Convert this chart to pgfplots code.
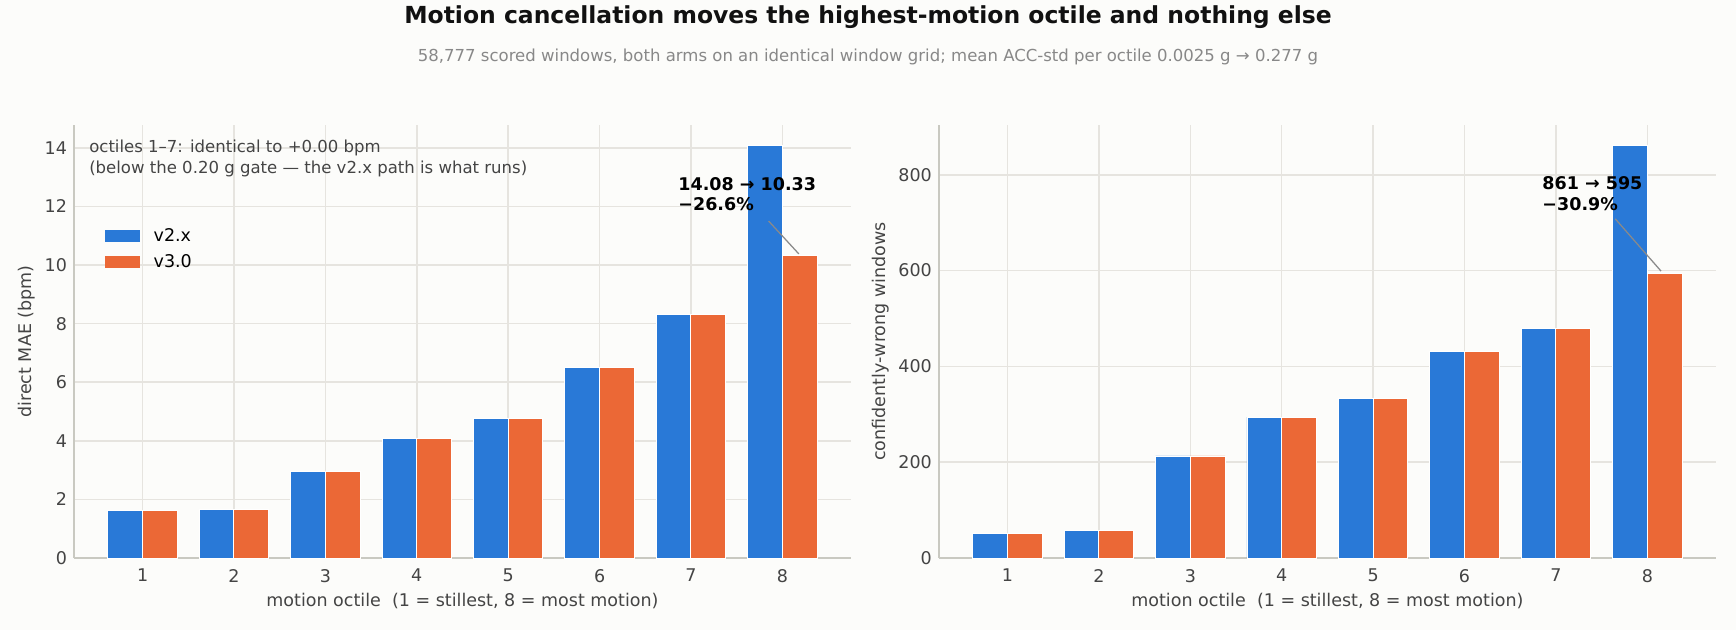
\documentclass[border=0pt]{standalone}
\usepackage{pgfplots}
\pgfplotsset{compat=1.18}
\usepackage{fontspec}
\setmainfont{DejaVu Sans}
\definecolor{bgc}{HTML}{FCFCFA}
\definecolor{bluec}{HTML}{2979D7}
\definecolor{orangec}{HTML}{EB6836}
\definecolor{gridc}{HTML}{E6E4DF}
\definecolor{spinec}{HTML}{C9C9C1}
\definecolor{tickc}{HTML}{444444}
\definecolor{subc}{HTML}{888888}
\definecolor{arrc}{HTML}{8A8A8A}
\pgfplotsset{myax/.style={
  width=559.4pt, height=311.8pt, scale only axis,
  anchor=south west,
  axis lines*=left,
  axis line style={draw=spinec, line width=1.1pt},
  xmin=0.25, xmax=8.75, ymin=0,
  xtick={1,2,3,4,5,6,7,8},
  major tick length=0pt,
  xmajorgrids, ymajorgrids,
  grid style={draw=gridc, line width=1.1pt},
  tick label style={font=\fontsize{12.6}{15}\selectfont, text=tickc},
  xticklabel style={yshift=-4.5pt},
  yticklabel style={xshift=-1.6pt},
  label style={font=\fontsize{12.6}{15}\selectfont, text=tickc},
  xlabel style={at={(rel axis cs:0.5,0)}, anchor=center, yshift=-31pt},
  /pgf/number format/assume math mode=true,
  clip=false,
  legend image code/.code={\fill[##1,draw=none] (0pt,-4.5pt) rectangle (25pt,4.5pt);},
}}
\begin{document}
\begin{tikzpicture}
\fill[bgc] (0pt,0pt) rectangle (1250pt,453.6pt);
\path[use as bounding box] (0pt,0pt) rectangle (1250pt,453.6pt);
\node[font=\bfseries\fontsize{16.9}{20}\selectfont, text={rgb,255:red,17;green,17;blue,17}] at (625pt,441pt) {Motion cancellation moves the highest-motion octile and nothing else};
\node[font=\fontsize{11.9}{14}\selectfont, text=subc] at (625pt,412.4pt) {58,777 scored windows, both arms on an identical window grid; mean ACC-std per octile 0.0025 g → 0.277 g};

\begin{axis}[myax, at={(53.3pt,51.8pt)},
  ymax=14.78, ytick={0,2,4,6,8,10,12,14},
  xlabel={motion octile\ \ (1 = stillest, 8 = most motion)},
  ylabel={direct MAE (bpm)},
  ylabel style={at={(rel axis cs:0,0.5)}, anchor=center, yshift=34pt},
  legend style={draw=none, fill=none, at={(0.036,0.775)}, anchor=north west,
    font=\fontsize{12.6}{15}\selectfont, row sep=4pt, inner sep=2pt,
    /tikz/every odd column/.style={column sep=8pt}},
  legend cell align=left,
]
\addplot[ybar, bar width=0.38, bar shift=-0.19, fill=bluec, draw=white, line width=0.7pt]
  coordinates {(1,1.62) (2,1.66) (3,2.95) (4,4.08) (5,4.76) (6,6.50) (7,8.31) (8,14.08)};
\addlegendentry{v2.x}
\addplot[ybar, bar width=0.38, bar shift=0.19, fill=orangec, draw=white, line width=0.7pt]
  coordinates {(1,1.62) (2,1.66) (3,2.95) (4,4.08) (5,4.76) (6,6.50) (7,8.31) (8,10.33)};
\addlegendentry{v3.0}
\node[anchor=north west, align=left, inner sep=0pt, text=tickc, font=\fontsize{11.9}{15.1}\selectfont, xshift=10.8pt, yshift=-10.5pt] at (rel axis cs:0,1) {octiles 1–7: identical to +0.00 bpm\\(below the 0.20 g gate — the v2.x path is what runs)};
\node[anchor=west, align=left, inner sep=0pt, font=\bfseries\fontsize{12.6}{15.1}\selectfont] at (axis cs:6.86,12.42) {14.08 → 10.33\\−26.6\%};
\draw[arrc, line width=0.9pt] (axis cs:7.85,11.5) -- (axis cs:8.18,10.38);
\end{axis}

\begin{axis}[myax, at={(676.1pt,51.8pt)},
  ymax=904, ytick={0,200,400,600,800},
  xlabel={motion octile\ \ (1 = stillest, 8 = most motion)},
  ylabel={confidently-wrong windows},
  ylabel style={at={(rel axis cs:0,0.5)}, anchor=center, yshift=41.8pt},
]
\addplot[ybar, bar width=0.38, bar shift=-0.19, fill=bluec, draw=white, line width=0.7pt]
  coordinates {(1,51) (2,57) (3,213) (4,294) (5,333) (6,431) (7,479) (8,861)};
\addplot[ybar, bar width=0.38, bar shift=0.19, fill=orangec, draw=white, line width=0.7pt]
  coordinates {(1,51) (2,57) (3,213) (4,294) (5,333) (6,431) (7,479) (8,595)};
\node[anchor=west, align=left, inner sep=0pt, font=\bfseries\fontsize{12.6}{15.1}\selectfont] at (axis cs:6.85,760) {861 → 595\\−30.9\%};
\draw[arrc, line width=0.9pt] (axis cs:7.65,708) -- (axis cs:8.15,599);
\end{axis}
\end{tikzpicture}
\end{document}
